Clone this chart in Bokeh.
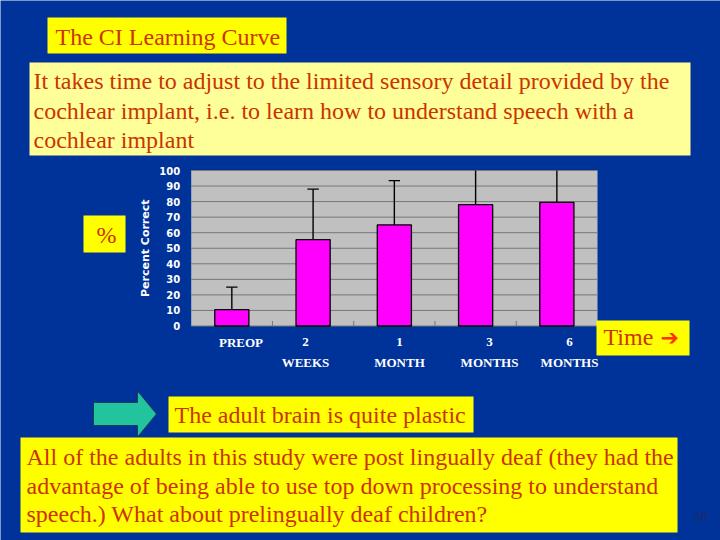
import numpy as np
from bokeh.plotting import figure
from bokeh.models import Range1d
from bokeh.core.properties import value
from bokeh.embed import file_html
from bokeh.resources import INLINE

# ---------------- data ----------------
categories = ["PREOP", "2 WEEKS", "1 MONTH", "3 MONTHS", "6 MONTHS"]
percent_correct = [10.5, 55.5, 65.0, 78.0, 79.5]
error_upper = [25.0, 88.0, 93.5, 104.0, 103.0]
y_ticks = [0, 10, 20, 30, 40, 50, 60, 70, 80, 90, 100]
y_tick_labels = ["0", "10", "20", "30", "40", "50", "60", "70", "80", "90", "100"]
y_axis_label = "Percent Correct"

title_text = "The CI Learning Curve"
intro_lines = [
    "It takes time to adjust to the limited sensory detail provided by the",
    "cochlear implant, i.e. to learn how to understand speech with a",
    "cochlear implant",
]
percent_text = "%"
time_text = "Time"
time_arrow = "\u2794"
plastic_text = "The adult brain is quite plastic"
closing_lines = [
    "All of the adults in this study were post lingually deaf (they had the",
    "advantage of being able to use top down processing to understand",
    "speech.) What about prelingually deaf children?",
]
page_number = "48"

# ---------------- layout / style ----------------
BG = "#003399"
YELLOW = "#FFFF00"
PALE = "#FFFF99"
TXT = "#CC3300"
SERIF = value("Liberation Serif")
SANS = value("DejaVu Sans")

W, H = 720, 540
SX0, SX1, SY0, SY1 = 0, 720, 0, 540           # slide pixel window
CL, CR, CT, CB = 190.7, 597.0, 170.0, 325.5   # chart plot area (slide px)
YMAX = 100.0
n = len(categories)
ppu = (CB - CT) / YMAX
cat_w = (CR - CL) / n
MID = 0.35  # baseline -> middle offset, in em

p = figure(width=W, height=H, x_range=Range1d(SX0, SX1), y_range=Range1d(SY1, SY0),
           output_backend="svg", toolbar_location=None,
           x_axis_type=None, y_axis_type=None, min_border=0,
           background_fill_color=BG, border_fill_color=BG, outline_line_color=None)
p.extra_x_ranges = {"cx": Range1d((SX0 - CL) / cat_w - 0.5, (SX1 - CL) / cat_w - 0.5)}
p.extra_y_ranges = {"cy": Range1d(-(SY1 - CB) / ppu, YMAX + (CT - SY0) / ppu)}
C = dict(x_range_name="cx", y_range_name="cy")

idx = np.arange(n)
vals = np.array(percent_correct)
upper = np.array(error_upper)

# chart background and grid
p.quad(left=[-0.5], right=[n - 0.5], bottom=[0], top=[YMAX],
       fill_color="#C0C0C0", line_color=None, **C)
p.segment(x0=-0.5, x1=n - 0.5, y0=y_ticks, y1=y_ticks,
          line_color="#777777", line_width=1, **C)
bnd = idx[:-1] + 0.5
p.segment(x0=bnd, x1=bnd, y0=0, y1=[5 / ppu] * len(bnd),
          line_color="#777777", line_width=1, **C)

# bars and error bars
p.vbar(x=idx, top=vals, bottom=0, width=0.42,
       fill_color="#FF00FF", line_color="black", line_width=1.3, **C)
up_clip = np.minimum(upper, YMAX)
p.segment(x0=idx, x1=idx, y0=vals, y1=up_clip, line_color="black", line_width=1.4, **C)
m = upper <= YMAX
p.segment(x0=idx[m] - 0.07, x1=idx[m] + 0.07, y0=upper[m], y1=upper[m],
          line_color="black", line_width=1.4, **C)

# y tick labels and axis label
p.text(x=-0.5, y=y_ticks, text=y_tick_labels, x_offset=-11,
       text_align="right", text_baseline="middle", text_font=SANS,
       text_font_style="bold", text_font_size="10px", text_color="white", **C)
p.text(x=[-0.5], y=[YMAX / 2], text=[y_axis_label], x_offset=-46, angle=np.pi / 2,
       text_align="center", text_baseline="middle", text_font=SANS,
       text_font_style="bold", text_font_size="11px", text_color="white", **C)

# ---------------- text helper (baseline given, drawn with middle anchor) ----------------
def txt(x, baselines, lines, size=24, color=TXT, align="left", font=SERIF, style="normal"):
    p.text(x=x, y=[b - MID * size for b in baselines], text=lines, text_align=align,
           text_baseline="middle", text_font=font, text_font_size=f"{size}px",
           text_color=color, text_font_style=style)

# category labels (two lines)
cat_first = [c.split(" ", 1)[0] for c in categories]
cat_second = [c.split(" ", 1)[1] if " " in c else "" for c in categories]
cat_label_x = [240.5, 305, 399, 489, 569]
txt(cat_label_x, [346.5] * n, cat_first, size=13, color="white", align="center", style="bold")
txt(cat_label_x, [366.5] * n, cat_second, size=13, color="white", align="center", style="bold")

# ---------------- slide decorations ----------------
def box(l, r, t, b, color):
    p.quad(left=[l], right=[r], top=[t], bottom=[b], fill_color=color, line_color=None)

box(47, 286, 17, 53, YELLOW)
txt(55, [45], [title_text])

box(29, 690, 62, 155, PALE)
txt(33, [89, 118.5, 148], intro_lines)

box(83, 125, 215, 252, YELLOW)
txt(106, [243], [percent_text], align="center")

box(596, 689, 320, 355, YELLOW)
txt(603, [345], [time_text])
txt(660, [345], [time_arrow], size=22, color="#FF3300", font=SANS)

# green block arrow
p.patch(x=[93, 137, 137, 156, 137, 137, 93],
        y=[402, 402, 390.5, 413.5, 436.5, 425, 425],
        fill_color="#22C49E", line_color="#1B3B5B", line_width=1)

box(168, 473, 396, 432, YELLOW)
txt(174, [423], [plastic_text])

box(20, 677, 437, 532, YELLOW)
txt(26, [465, 493.5, 522], closing_lines)

txt(700, [520], [page_number], size=12, color="#1A2A6A", align="center",
    font=value("Liberation Sans"))

open("out.html", "w").write(file_html(p, INLINE))
